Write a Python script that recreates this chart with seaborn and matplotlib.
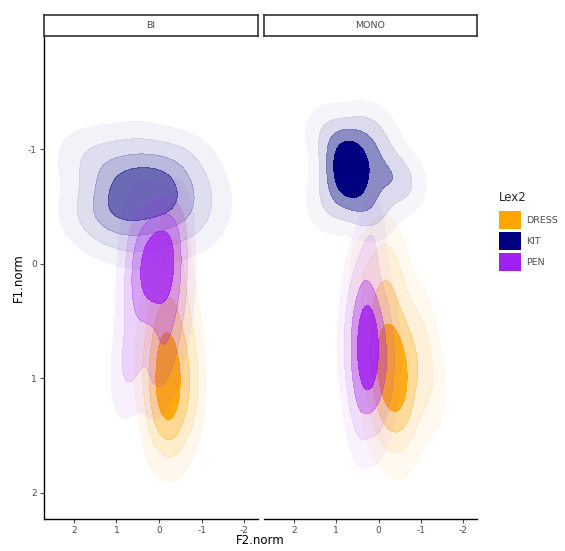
import matplotlib
matplotlib.use("Agg")
import matplotlib.pyplot as plt
import seaborn as sns
import numpy as np
from matplotlib.patches import Patch
from matplotlib.colors import to_rgba

# ---- data: token positions (F2.norm, F1.norm) per group ----
groups = ["BI", "MONO"]
lex = ["DRESS", "KIT", "PEN"]
lex_colors = {"DRESS": "#FFA500", "KIT": "#000080", "PEN": "#A020F0"}

bi_kit_f2 = [1.2, 0.7, 0.2, -0.3, 1.2, 0.7, 0.2, -0.3, 1.2, 0.7, 0.2, -0.3,
             1.6, 1.5, 0.5, -0.7, -0.9, -0.5, 0.2, 0.9]
bi_kit_f1 = [-0.8, -0.8, -0.8, -0.8, -0.62, -0.62, -0.62, -0.62, -0.45, -0.45, -0.45, -0.45,
             -0.95, -0.4, -1.0, -0.35, -0.6, -0.9, -0.2, -0.25]

bi_pen_f2 = [0.3, -0.2, 0.05, 0.35, -0.25, 0.0, 0.15, -0.1, 0.25, -0.05,
             0.55, -0.4, 0.6, -0.45, -0.15, -0.2, 0.6, 0.75, 0.05]
bi_pen_f1 = [-0.1, -0.1, 0.0, 0.08, 0.1, 0.12, -0.05, 0.05, 0.2, -0.2,
             -0.3, -0.25, 0.2, 0.3, 0.5, 0.75, 0.7, 0.95, 0.95]

bi_dress_f2 = [-0.2, -0.1, -0.3, -0.15, -0.3, -0.2, 0.0, -0.4, -0.1,
               -0.5, 0.1, -0.2, -0.7, -0.8, 0.3, -0.3, 0.1, -0.6, -0.4]
bi_dress_f1 = [0.8, 0.9, 0.95, 1.05, 1.1, 1.15, 1.05, 0.95, 0.7,
               0.35, 0.35, 0.1, 0.7, 1.1, 0.9, 1.4, 1.35, 1.3, -0.1]

mono_kit_f2 = [0.7, 0.85, 0.5, 0.9, 0.55, 0.7, 0.75, 0.6, 0.85, 0.65,
               1.2, 0.3, 1.2, 0.3, -0.1, -0.35, -0.6, 0.0, 0.1]
mono_kit_f1 = [-0.85, -1.0, -0.95, -0.7, -0.7, -1.05, -0.6, -0.85, -0.85, -0.75,
               -1.15, -1.2, -0.5, -0.45, -0.8, -0.75, -0.7, -1.05, -0.5]

mono_pen_f2 = [0.25, 0.3, 0.2, 0.25, 0.35, 0.15, 0.3, 0.2,
               0.6, -0.1, 0.55, -0.15, 0.4, 0.05, 0.7, -0.25, 0.35, 0.1]
mono_pen_f1 = [0.6, 0.7, 0.8, 0.9, 0.8, 0.65, 0.55, 0.75,
               0.35, 0.45, 1.1, 1.05, 1.35, 1.3, 0.75, 0.8, 0.05, -0.2]

mono_dress_f2 = [-0.3, -0.25, -0.35, -0.2, -0.4, -0.15, -0.45, -0.3,
                 0.0, -0.5, -0.15, 0.25, -0.8, -0.7, 0.0, -0.4, -1.0, 0.3, -0.3, -1.2]
mono_dress_f1 = [0.8, 0.9, 1.0, 1.05, 0.85, 0.95, 1.0, 0.85,
                 0.4, 0.45, 0.15, 0.8, 0.85, 1.25, 1.35, 1.45, 0.6, 0.2, 0.0, 1.05]

x_ticks = [2, 1, 0, -1, -2]
y_ticks = [-1, 0, 1, 2]

series = {
    ("BI", "KIT"): (bi_kit_f2, bi_kit_f1),
    ("BI", "PEN"): (bi_pen_f2, bi_pen_f1),
    ("BI", "DRESS"): (bi_dress_f2, bi_dress_f1),
    ("MONO", "KIT"): (mono_kit_f2, mono_kit_f1),
    ("MONO", "PEN"): (mono_pen_f2, mono_pen_f1),
    ("MONO", "DRESS"): (mono_dress_f2, mono_dress_f1),
}

# band alphas (outer -> inner) per panel/group
band_alpha = {
    ("BI", "KIT"): [0.05, 0.13, 0.27, 0.58],
    ("BI", "PEN"): [0.07, 0.2, 0.42, 0.85],
    ("BI", "DRESS"): [0.08, 0.2, 0.42, 0.95],
    ("MONO", "KIT"): [0.04, 0.14, 0.45, 1.0],
    ("MONO", "PEN"): [0.05, 0.15, 0.45, 0.9],
    ("MONO", "DRESS"): [0.06, 0.15, 0.4, 0.9],
}
levels = [0.05, 0.2, 0.45, 0.72, 1.0]

sns.set_theme(style="white")
plt.rcParams["font.family"] = ["DejaVu Sans"]

W, H = 565, 551
fig = plt.figure(figsize=(W / 100, H / 100), dpi=100)

panel_px = {"BI": (44, 258), "MONO": (264, 477)}
top_px, bot_px = 36, 519
strip_top = 15
grey = "#4d4d4d"

for g in groups:
    l, r = panel_px[g]
    ax = fig.add_axes([l / W, 1 - bot_px / H, (r - l) / W, (bot_px - top_px) / H])
    for lx in ["DRESS", "KIT", "PEN"]:
        f2, f1 = series[(g, lx)]
        n = min(len(f2), len(f1))
        cols = [to_rgba(lex_colors[lx], a) for a in band_alpha[(g, lx)]]
        sns.kdeplot(x=np.asarray(f2[:n], float), y=np.asarray(f1[:n], float),
                    fill=True, levels=levels, color=lex_colors[lx], colors=cols,
                    bw_adjust=1.2, ax=ax)
    ax.set_xlim(2.7, -2.32)
    ax.set_ylim(2.23, -1.99)
    ax.set_xticks(x_ticks)
    ax.set_xticklabels([str(t) for t in x_ticks])
    ax.set_yticks(y_ticks)
    ax.set_yticklabels([str(t) for t in y_ticks])
    ax.set_xlabel("")
    ax.set_ylabel("")
    for s in ["top", "right"]:
        ax.spines[s].set_visible(False)
    ax.spines["bottom"].set_color("black")
    ax.spines["bottom"].set_linewidth(1.0)
    ax.spines["left"].set_color("black")
    ax.spines["left"].set_linewidth(1.0)
    ax.tick_params(axis="both", which="both", length=3, width=0.8, color=grey,
                   labelcolor=grey, labelsize=6.5, pad=2, bottom=True, left=True)
    if g == "MONO":
        ax.spines["left"].set_visible(False)
        ax.tick_params(axis="y", left=False, labelleft=False)
    # strip
    sax = fig.add_axes([l / W, 1 - top_px / H, (r - l) / W, (top_px - strip_top) / H])
    sax.set_xticks([]); sax.set_yticks([])
    sax.set_facecolor("white")
    for s in sax.spines.values():
        s.set_visible(True)
        s.set_color("#333333")
        s.set_linewidth(1.2)
    sax.text(0.5, 0.5, g, ha="center", va="center", fontsize=6.8, color=grey,
             transform=sax.transAxes)

fig.text(260 / W, 1 - 541 / H, "F2.norm", ha="center", va="center", fontsize=8.5, color="black")
fig.text(18 / W, 1 - 278 / H, "F1.norm", ha="center", va="center", fontsize=8.5,
         color="black", rotation=90)

handles = [Patch(facecolor=lex_colors[lx], edgecolor="none", label=lx) for lx in lex]
leg = fig.legend(handles=handles, title="Lex2", loc="upper left",
                 bbox_to_anchor=(499 / W, 1 - 191 / H), frameon=False,
                 fontsize=6.8, title_fontsize=8.5, handlelength=2.3, handleheight=2.6,
                 handletextpad=0.55, labelspacing=0.3, borderaxespad=0, borderpad=0)
leg._legend_box.align = "left"
leg._legend_box.sep = 5
for t in leg.get_texts():
    t.set_color(grey)

fig.savefig("out.png", dpi=100)
